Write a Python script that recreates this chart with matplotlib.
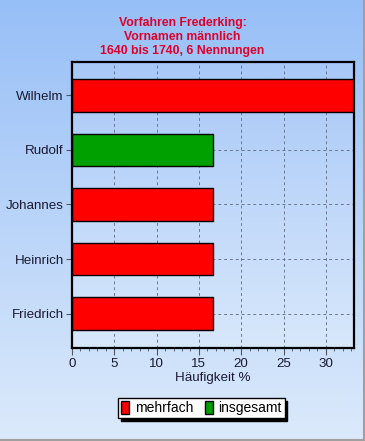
import numpy as np
import matplotlib
matplotlib.use("Agg")
import matplotlib.pyplot as plt
from matplotlib.patches import Patch
from matplotlib.ticker import MultipleLocator

names = ["Friedrich", "Heinrich", "Johannes", "Rudolf", "Wilhelm"]
values = [16.67, 16.67, 16.67, 16.67, 33.33]
groups = ["mehrfach", "mehrfach", "mehrfach", "insgesamt", "mehrfach"]
group_colors = {"mehrfach": "#ff0000", "insgesamt": "#00a000"}
title = "Vorfahren Frederking:\nVornamen männlich\n1640 bis 1740, 6 Nennungen"
xlabel = "Häufigkeit %"

plt.rcParams['font.family'] = ['Liberation Sans', 'DejaVu Sans']

W, H = 365, 441
fig = plt.figure(figsize=(W / 100, H / 100), dpi=100)

# figure background gradient
bg = fig.add_axes([0, 0, 1, 1], zorder=-10)
grad = np.linspace(0, 1, 256).reshape(-1, 1)
c_top = np.array([0x97, 0xbf, 0xf7]) / 255
c_bot = np.array([0xdc, 0xea, 0xfb]) / 255
img = c_top[None, None, :] * (1 - grad[:, :, None]) + c_bot[None, None, :] * grad[:, :, None]
bg.imshow(img, aspect='auto', extent=[0, 1, 0, 1])
bg.set_xlim(0, 1); bg.set_ylim(0, 1)
bg.axis('off')
# border
bg.plot([0.997, 0.997], [0, 1], color="#a0a0a0", lw=1.5, transform=bg.transAxes)
bg.plot([0, 1], [0.003, 0.003], color="#a0a0a0", lw=1.5, transform=bg.transAxes)

ax = fig.add_axes([72 / W, 1 - 348 / H, (354 - 72) / W, (348 - 62) / H])
ax.set_facecolor("none")
xmax = 33.33
ymin, ymax = -0.63, 4.61
ax.set_xlim(0, xmax)
ax.set_ylim(ymin, ymax)

# plot area gradient
p_top = np.array([0xa8, 0xc8, 0xf8]) / 255
p_bot = np.array([0xd8, 0xe8, 0xfb]) / 255
img2 = p_top[None, None, :] * (1 - grad[:, :, None]) + p_bot[None, None, :] * grad[:, :, None]
ax.imshow(img2, aspect='auto', extent=[0, xmax, ymin, ymax], zorder=0)

y = np.arange(len(names))
cols = [group_colors[g] for g in groups]
ax.barh(y, values, height=0.6, color=cols, edgecolor="black", linewidth=1.0, zorder=3)

ax.set_yticks(y)
ax.set_yticklabels(names, fontsize=9.6, color="#1a1a33")
ax.xaxis.set_major_locator(MultipleLocator(5))
ax.xaxis.set_minor_locator(MultipleLocator(1))
ax.tick_params(axis='x', which='major', length=5, color="#555566", labelsize=9.6, labelcolor="#1a1a33", pad=2)
ax.tick_params(axis='x', which='minor', length=2.5, color="#555566")
ax.tick_params(axis='y', length=4, color="#555566", pad=2)
ax.grid(True, which='major', linestyle=(0, (3, 3)), color="#6a7890", linewidth=0.7, zorder=1)
ax.set_axisbelow(True)
for s in ax.spines.values():
    s.set_linewidth(1.6)
    s.set_color("black")
    s.set_zorder(5)

ax.set_xlabel(xlabel, fontsize=9.6, color="#1a1a33", labelpad=2)

fig.text(0.5, 1 - 17 / H, title, ha='center', va='top', fontsize=8.8, fontweight='bold',
         color="#e0002a", linespacing=1.22)

handles = [Patch(facecolor=group_colors[k], edgecolor="black", label=k) for k in ["mehrfach", "insgesamt"]]
leg = fig.legend(handles=handles, loc='center', bbox_to_anchor=(0.552, 1 - 408 / H), ncol=2,
                 fontsize=10, frameon=True, fancybox=False, shadow={'color': 'black', 'alpha': 1},
                 edgecolor="black", facecolor="white", framealpha=1,
                 handlelength=0.6, handleheight=1.1, handletextpad=0.4, columnspacing=0.8,
                 borderpad=0.2, borderaxespad=0)
leg.get_frame().set_linewidth(1.0)

fig.savefig("out.png", dpi=100)
